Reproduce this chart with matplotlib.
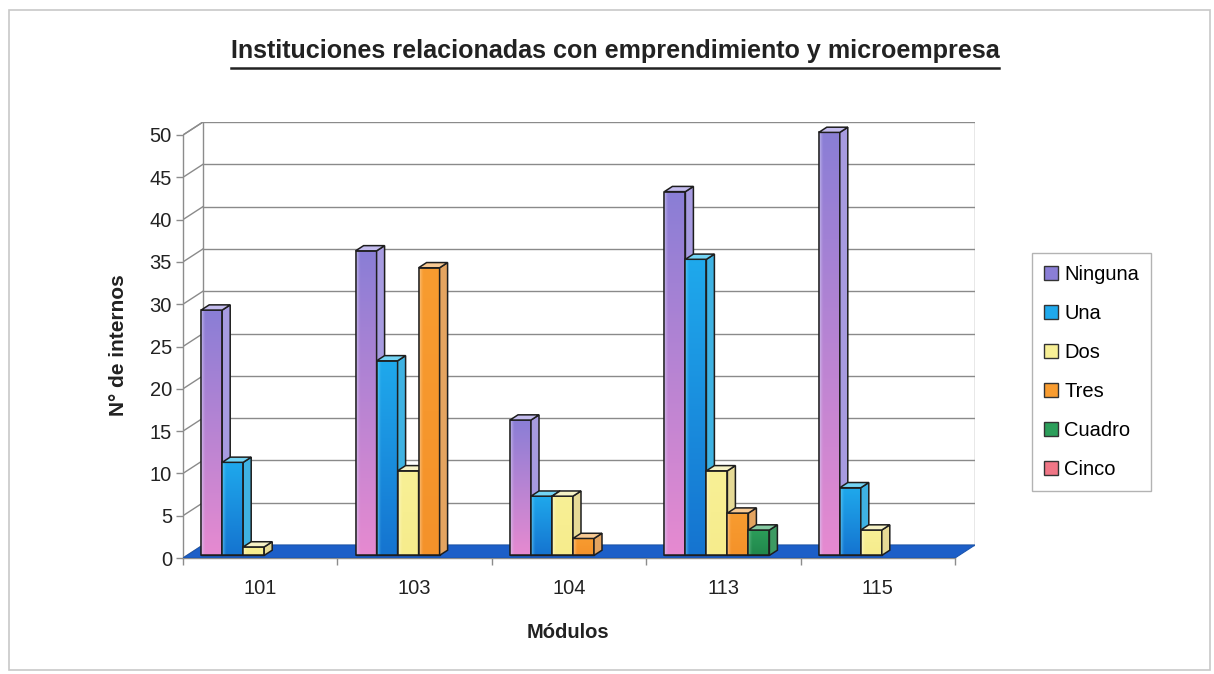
import numpy as np
import matplotlib
matplotlib.use("Agg")
import matplotlib.pyplot as plt
from matplotlib.patches import Polygon, Patch, Rectangle
from matplotlib.colors import to_rgb
from matplotlib.lines import Line2D

plt.rcParams['font.family'] = ['Liberation Sans', 'DejaVu Sans']

# ---- data ----
modules = ['101', '103', '104', '113', '115']
series_names = ['Ninguna', 'Una', 'Dos', 'Tres', 'Cuadro', 'Cinco']
ninguna = [29, 36, 16, 43, 50]
una = [11, 23, 7, 35, 8]
dos = [1, 10, 7, 10, 3]
tres = [0, 34, 2, 5, 0]
cuadro = [0, 0, 0, 3, 0]
cinco = [0, 0, 0, 0, 0]
y_ticks = list(range(0, 51, 5))

series_values = [ninguna, una, dos, tres, cuadro, cinco]

# face colours: (front light edge, front main top, front main bottom, side, top)
palette = {
    'Ninguna': ('#d6cff4', '#8a7ed6', '#e68ad0', '#a79be0', '#c4bcee'),
    'Una':     ('#6fd2f6', '#1fa9ec', '#1574d0', '#3fb2e2', '#74d4f4'),
    'Dos':     ('#fdfad2', '#f8f096', '#f6ec8c', '#e6da96', '#f6f2c6'),
    'Tres':    ('#fcd09a', '#f89c30', '#f4922a', '#e4a460', '#f8ca94'),
    'Cuadro':  ('#7cc89c', '#2c9e5a', '#21874c', '#3d9a62', '#86caa2'),
    'Cinco':   ('#f8b8c0', '#f07686', '#e86474', '#e08a96', '#f6b4bc'),
}

W, H = 1214, 674
fig = plt.figure(figsize=(W / 100, H / 100), dpi=100)
fig.patch.set_facecolor('white')

# pixel frame of the front plane
x0_px, x1_px = 183, 955
y0_px, y50_px = 558, 135
depth_px = (20, -13)
ppc = (x1_px - x0_px) / len(modules)         # pixels per category
ppv = (y0_px - y50_px) / 50.0                # pixels per unit
dX = depth_px[0] / ppc
dY = -depth_px[1] / ppv

xmin, xmax = -0.5, len(modules) - 0.5
ymax = 50
left = x0_px / W
bottom = 1 - y0_px / H
width = (x1_px + depth_px[0] - x0_px) / W
height = (y0_px - (y50_px + depth_px[1])) / H
ax = fig.add_axes([left, bottom, width, height])
ax.set_xlim(xmin, xmax + dX)
ax.set_ylim(0, ymax + dY)
ax.set_facecolor('none')

wall_c = '#8c8c8c'
grid_c = '#8a8a8a'

# back wall gridlines and side wall diagonals
for v in y_ticks:
    ax.plot([xmin + dX, xmax + dX], [v + dY, v + dY], color=grid_c, lw=1.0, zorder=1)
    ax.plot([xmin, xmin + dX], [v, v + dY], color=grid_c, lw=1.0, zorder=1)
# wall edges
ax.plot([xmin + dX, xmin + dX], [dY, ymax + dY], color=wall_c, lw=1.0, zorder=1)
ax.plot([xmax + dX, xmax + dX], [dY, ymax + dY], color=wall_c, lw=1.0, zorder=1)

# floor
floor = Polygon([(xmin, 0), (xmax, 0), (xmax + dX, dY), (xmin + dX, dY)],
                closed=True, facecolor='#1d5fc8', edgecolor='#1a55b0', lw=0.8, zorder=2)
ax.add_patch(floor)

# bars with a pseudo-3D look
w = 0.136
z0, z1 = 0.2, 0.6
ox, oy = z0 * dX, z0 * dY
sx, sy = (z1 - z0) * dX, (z1 - z0) * dY
edge = '#1e1e1e'


def face_gradient(light, top, bot, n=64):
    lt, tp, bt = (np.array(to_rgb(c)) for c in (light, top, bot))
    t = np.linspace(0, 1, n)[:, None, None]          # 0 top -> 1 bottom
    u = np.linspace(0, 1, n)[None, :, None]          # 0 left -> 1 right
    vert = tp * (1 - t) + bt * t
    hl = np.clip(1 - u / 0.22, 0, 1) ** 1.5
    img = vert * (1 - hl * 0.75) + lt * (hl * 0.75)
    return img


zo = 3
for ci in range(len(modules)):
    for si, name in enumerate(series_names):
        val = series_values[si][ci]
        if val <= 0:
            continue
        light, top, bot, side_c, top_c = palette[name]
        xl = ci - 3 * w + si * w + ox
        b0 = oy
        bars = ax.bar(xl, val, width=w, bottom=b0, align='edge',
                      color=top, edgecolor=edge, linewidth=1.0, zorder=zo)
        rect = bars.patches[0]
        img = face_gradient(light, top, bot)
        im = ax.imshow(img, extent=(xl, xl + w, b0, b0 + val), aspect='auto',
                       interpolation='bilinear', origin='upper', zorder=zo + 0.1)
        im.set_clip_path(rect)
        ax.add_patch(Rectangle((xl, b0), w, val, facecolor='none', edgecolor=edge,
                               lw=1.1, zorder=zo + 0.2))
        side = Polygon([(xl + w, b0), (xl + w + sx, b0 + sy),
                        (xl + w + sx, b0 + val + sy), (xl + w, b0 + val)],
                       closed=True, facecolor=side_c, edgecolor=edge, lw=1.1, zorder=zo + 0.2)
        ax.add_patch(side)
        topf = Polygon([(xl, b0 + val), (xl + w, b0 + val),
                        (xl + w + sx, b0 + val + sy), (xl + sx, b0 + val + sy)],
                       closed=True, facecolor=top_c, edgecolor=edge, lw=1.1, zorder=zo + 0.2)
        ax.add_patch(topf)
        zo += 1

ax.set_xlim(xmin, xmax + dX)
ax.set_ylim(0, ymax + dY)

# axes, ticks and labels
for s in ('top', 'right'):
    ax.spines[s].set_visible(False)
ax.spines['left'].set_bounds(0, ymax)
ax.spines['bottom'].set_bounds(xmin, xmax)
for s in ('left', 'bottom'):
    ax.spines[s].set_color(wall_c)
    ax.spines[s].set_linewidth(1.0)
    ax.spines[s].set_zorder(1)
# top-left diagonal of the side wall and top edge of back wall
ax.plot([xmin, xmin + dX, xmax + dX], [ymax, ymax + dY, ymax + dY], color=wall_c, lw=1.0, zorder=1)

ax.set_yticks(y_ticks)
ax.set_yticklabels([str(v) for v in y_ticks])
ax.tick_params(axis='y', direction='out', length=5, width=1.0, color=wall_c,
               labelsize=14.5, pad=3, labelcolor='#222222')
ax.set_xticks(range(len(modules)))
ax.set_xticklabels(modules)
ax.set_xticks(np.arange(xmin, xmax + 0.01, 1.0), minor=True)
ax.tick_params(axis='x', which='major', length=0, labelsize=14.5, pad=15, labelcolor='#222222')
ax.tick_params(axis='x', which='minor', direction='out', length=5, width=1.0, color=wall_c)

fig.text(118 / W, 1 - 345 / H, 'N° de internos', rotation=90, ha='center', va='center',
         fontsize=15, fontweight='bold', color='#222222')
fig.text(568 / W, 1 - 632 / H, 'Módulos', ha='center', va='center',
         fontsize=14.5, fontweight='bold', color='#222222')

title = fig.text(615 / W, 1 - 51 / H, 'Instituciones relacionadas con emprendimiento y microempresa',
                 ha='center', va='center', fontsize=18, fontweight='bold', color='#222222')

# legend
handles = [Patch(facecolor=palette[n][1], edgecolor='#333333', linewidth=1.0, label=n)
           for n in series_names]
leg = fig.legend(handles=handles, loc='center left', bbox_to_anchor=(1032 / W, 1 - 372 / H),
                 frameon=True, fontsize=14.5, handlelength=0.7, handleheight=0.7,
                 handletextpad=0.3, labelspacing=1.0, borderpad=0.6, borderaxespad=0,
                 fancybox=False, edgecolor='#a0a0a0')
leg.get_frame().set_linewidth(1.0)

# fit the title to its underline width, then underline it
fig.canvas.draw()
renderer = fig.canvas.get_renderer()
bb = title.get_window_extent(renderer)
title.set_fontsize(18 * 770 / bb.width)
fig.canvas.draw()
bb = title.get_window_extent(renderer)
uy = H - 68
fig.add_artist(Line2D([bb.x0 / W, bb.x1 / W], [uy / H, uy / H], transform=fig.transFigure,
                      color='#222222', lw=1.8))

# outer frame
fig.add_artist(Rectangle((9 / W, 1 - 670 / H), (1210 - 9) / W, (670 - 10) / H,
                         transform=fig.transFigure, facecolor='none', edgecolor='#c8c8c8', lw=1.2))

fig.savefig('out.png', dpi=100, facecolor='white')
